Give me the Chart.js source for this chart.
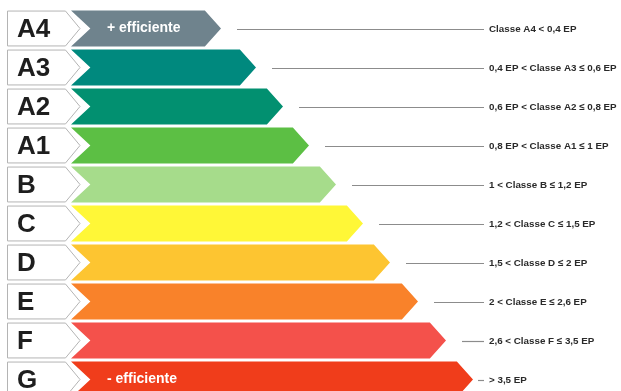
<!DOCTYPE html>
<html>
<head>
<meta charset="utf-8">
<script src="https://cdn.jsdelivr.net/npm/chart.js@4"></script>
<style>
  html, body { margin: 0; padding: 0; background: #fff; overflow: hidden; }
  #box { position: relative; width: 621px; height: 399px; }
</style>
</head>
<body>
<div id="box"><canvas id="chartClassi"></canvas></div>
<script>
// classi energetiche
const classi = ['A4', 'A3', 'A2', 'A1', 'B', 'C', 'D', 'E', 'F', 'G'];
// lunghezza delle frecce (punta)
const punte = [221, 256, 283, 309, 336, 363, 390, 418, 446, 473];
const inizio = 71;
const descrizioni = [
  'Classe A4 < 0,4 EP',
  '0,4 EP < Classe A3 ≤ 0,6 EP',
  '0,6 EP < Classe A2 ≤ 0,8 EP',
  '0,8 EP < Classe A1 ≤ 1 EP',
  '1 < Classe B ≤ 1,2 EP',
  '1,2 < Classe C ≤ 1,5 EP',
  '1,5 < Classe D ≤ 2 EP',
  '2 < Classe E ≤ 2,6 EP',
  '2,6 < Classe F ≤ 3,5 EP',
  '> 3,5 EP'
];
const colori = ['#6f838d', '#00897e', '#029070', '#5cbf44', '#a6dc8b', '#fff737', '#fdc531', '#f9822a', '#f4514b', '#f03d1b'];
const testiFreccia = { 0: '+ efficiente', 9: '- efficiente' };

// Disegna le barre come frecce, le etichette e le descrizioni
const pluginFrecce = {
  id: 'frecce',
  beforeDatasetDraw() { return false; },
  afterDatasetsDraw(chart) {
    const ctx = chart.ctx;
    const meta = chart.getDatasetMeta(0);
    const ds = chart.data.datasets[0];
    ctx.save();
    meta.data.forEach((bar, i) => {
      const p = bar.getProps(['x', 'y', 'base', 'height'], true);
      const h2 = p.height / 2;
      const punta = h2 * 0.9;
      const notch = h2 * 1.08;

      // freccia
      ctx.beginPath();
      ctx.moveTo(p.base, p.y - h2);
      ctx.lineTo(p.x - punta, p.y - h2);
      ctx.lineTo(p.x, p.y);
      ctx.lineTo(p.x - punta, p.y + h2);
      ctx.lineTo(p.base, p.y + h2);
      ctx.lineTo(p.base + notch, p.y);
      ctx.closePath();
      ctx.fillStyle = ds.backgroundColor[i];
      ctx.fill();

      // etichetta a sinistra
      ctx.beginPath();
      ctx.moveTo(7.5, p.y - h2 + 0.5);
      ctx.lineTo(65.5, p.y - h2 + 0.5);
      ctx.lineTo(80, p.y);
      ctx.lineTo(65.5, p.y + h2 - 0.5);
      ctx.lineTo(7.5, p.y + h2 - 0.5);
      ctx.closePath();
      ctx.fillStyle = '#ffffff';
      ctx.fill();
      ctx.strokeStyle = '#b4b4b4';
      ctx.lineWidth = 1;
      ctx.stroke();

      ctx.fillStyle = '#1e1e1e';
      ctx.font = 'bold 26px "Liberation Sans", Arial, sans-serif';
      ctx.textAlign = 'left';
      ctx.textBaseline = 'middle';
      ctx.fillText(chart.data.labels[i], 17, p.y + 1);

      // testo dentro la freccia
      if (testiFreccia[i]) {
        ctx.fillStyle = '#ffffff';
        ctx.font = 'bold 14px "Liberation Sans", Arial, sans-serif';
        ctx.fillText(testiFreccia[i], 107, p.y);
      }

      // linea e descrizione
      ctx.beginPath();
      ctx.moveTo(p.x + 5 + (i === 9 ? 0 : 11), Math.round(p.y) + 0.5);
      ctx.lineTo(484, Math.round(p.y) + 0.5);
      ctx.strokeStyle = '#8c8c8c';
      ctx.lineWidth = 1.2;
      ctx.stroke();

      ctx.fillStyle = '#2a2a2a';
      ctx.font = 'bold 9.8px "Liberation Sans", Arial, sans-serif';
      ctx.fillText(descrizioni[i], 489, p.y + 0.5);
    });
    ctx.restore();
  }
};

const canvas = document.getElementById('chartClassi');
window._chartClassi = new Chart(canvas, {
  type: 'bar',
  data: {
    labels: classi,
    datasets: [{
      data: punte.map(v => [inizio, v]),
      backgroundColor: colori,
      barPercentage: 0.92,
      categoryPercentage: 1
    }]
  },
  options: {
    indexAxis: 'y',
    responsive: true,
    maintainAspectRatio: false,
    animation: false,
    layout: { padding: { top: 9, left: 0, right: 0, bottom: 0 } },
    plugins: {
      legend: { display: false },
      tooltip: { enabled: false }
    },
    scales: {
      x: { display: false, min: 0, max: 621 },
      y: { display: false }
    }
  },
  plugins: [pluginFrecce]
});
</script>
</body>
</html>
